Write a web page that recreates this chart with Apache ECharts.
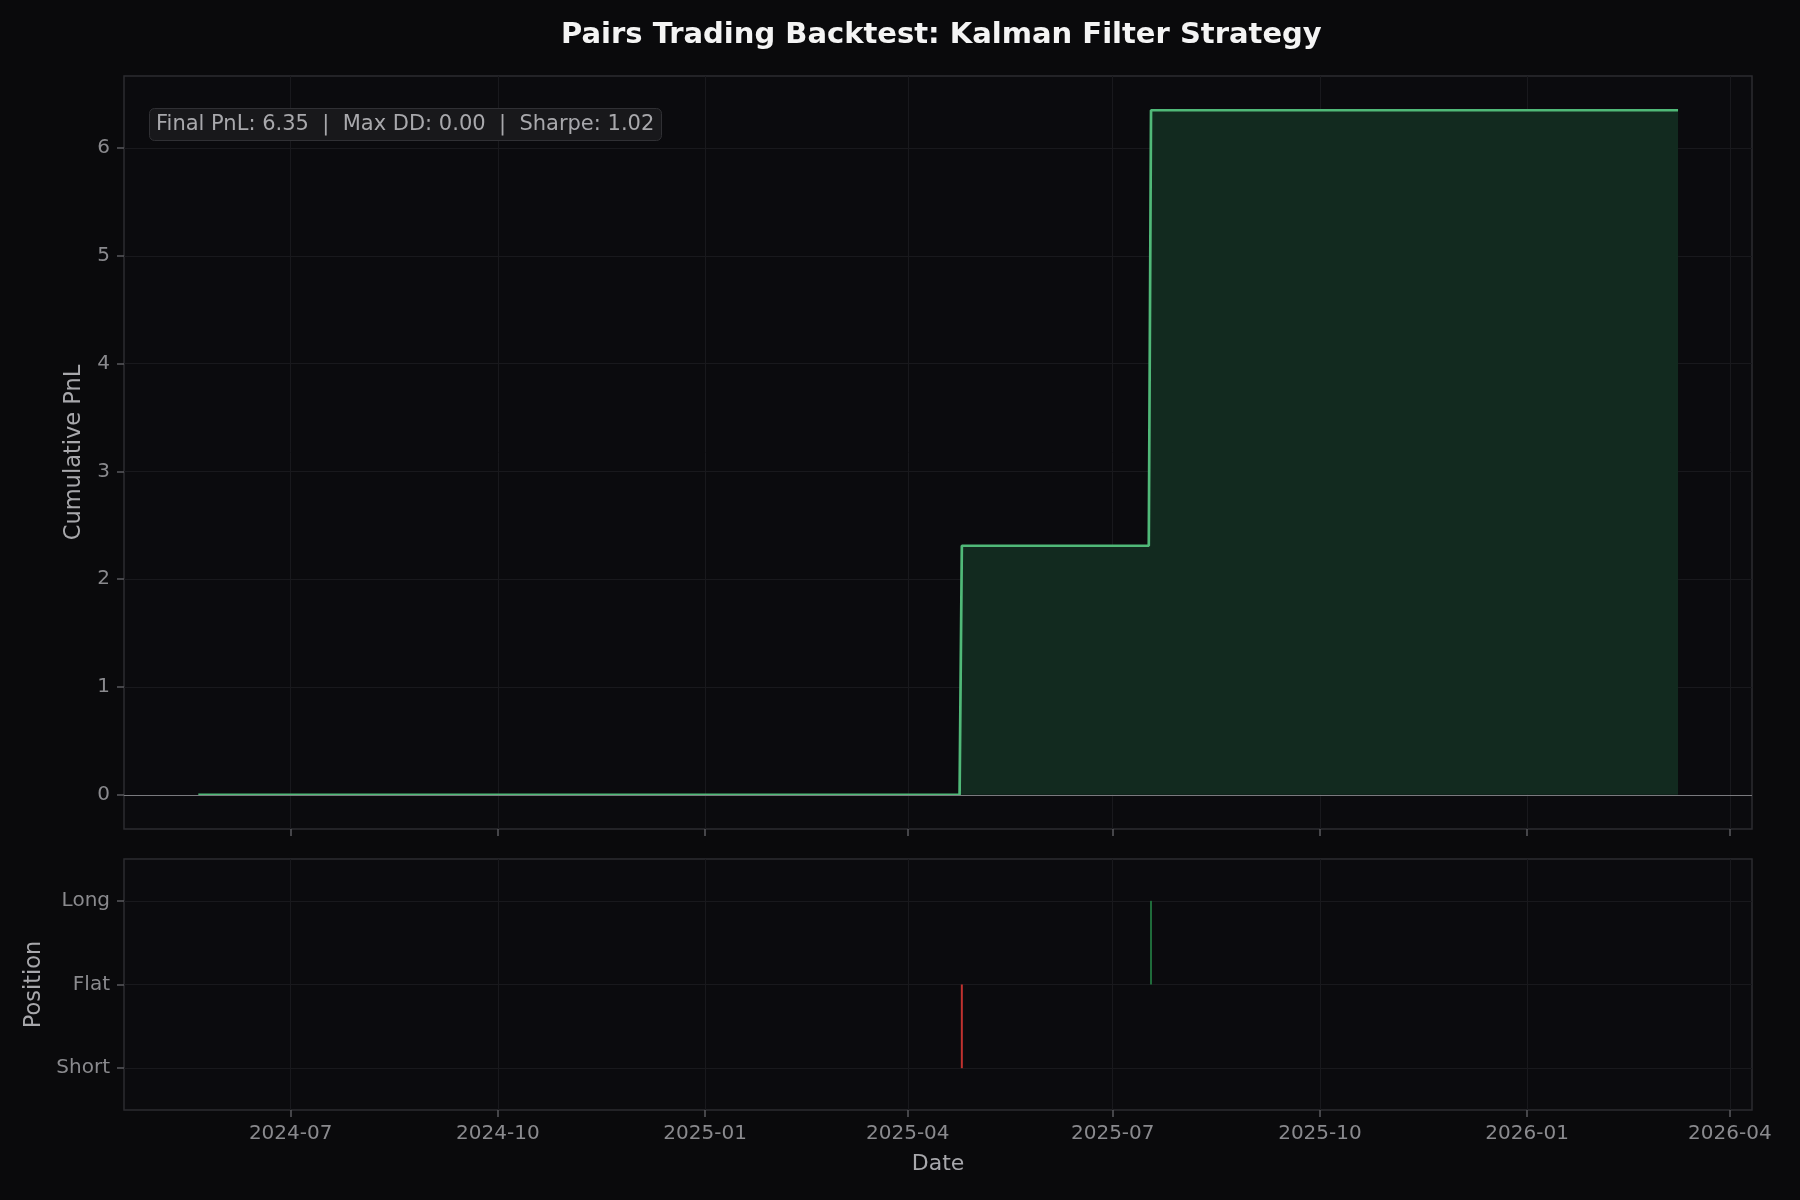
<!DOCTYPE html>
<html>
<head>
    <meta charset="utf-8"/>
    <title>Pairs Trading Backtest</title>
    <script src="https://cdn.jsdelivr.net/npm/echarts@6.0.0/dist/echarts.min.js"></script>
    <style>
        html, body { margin: 0; padding: 0; background: #0a0a0c; }
    </style>
</head>
<body>
<div id="main" style="width: 1800px;height:1200px;"></div>
<script type="text/javascript">
    // cumulative PnL (daily points where the curve changes)
    var pnlDates = ['2024-05-21', '2025-04-24', '2025-04-25', '2025-07-17', '2025-07-18', '2026-03-09'];
    var pnlValues = [0, 0, 2.31, 2.31, 6.35, 6.35];

    // position signals (-1 short, 1 long), flat elsewhere
    var posDates = ['2025-04-25', '2025-07-18'];
    var posValues = [-1, 1];
    var posNames = ['Short', 'Flat', 'Long'];

    // axis ticks
    var xTickDates = ['2024-07-01', '2024-10-01', '2025-01-01', '2025-04-01',
                      '2025-07-01', '2025-10-01', '2026-01-01', '2026-04-01'];
    var yTicks = [0, 1, 2, 3, 4, 5, 6];
    var posTicks = [-1, 0, 1];

    // stats
    var finalPnl = 6.35;
    var maxDD = 0.00;
    var sharpe = 1.02;

    // dates -> ms timestamps, x axes are plain value axes over time
    function ts(s) {
        return new Date(s + 'T00:00:00').getTime();
    }
    function pad(n) {
        return n < 10 ? '0' + n : '' + n;
    }
    function fmtMonth(v) {
        var d = new Date(v);
        return d.getFullYear() + '-' + pad(d.getMonth() + 1);
    }

    var xMin = ts('2024-04-18');
    var xMax = ts('2026-04-10') + 20 * 3600 * 1000;
    var xTicks = xTickDates.map(ts);

    var pnlData = pnlDates.map(function (d, i) { return [ts(d), pnlValues[i]]; });
    var posData = posDates.map(function (d, i) { return [ts(d), posValues[i]]; });

    var font = 'DejaVu Sans';
    var tickColor = '#8a8a8e';
    var labelColor = '#a8a8ac';
    var gridColor = '#19191d';
    var frameColor = '#2c2c30';
    var tickLine = { color: '#5a5a5e', width: 1.5 };

    var myChart = echarts.init(document.getElementById('main'));

    var option = {
        backgroundColor: '#0a0a0c',
        animation: false,
        textStyle: { fontFamily: font },
        title: [
            {
                text: 'Pairs Trading Backtest: Kalman Filter Strategy',
                left: 556,
                top: 16,
                textStyle: { color: '#f4f4f4', fontSize: 29, fontWeight: 'bold', fontFamily: font }
            },
            {
                text: 'Final PnL: ' + finalPnl.toFixed(2) + '  |  Max DD: ' + maxDD.toFixed(2) +
                      '  |  Sharpe: ' + sharpe.toFixed(2),
                left: 149,
                top: 108,
                padding: [6, 7, 6, 7],
                backgroundColor: '#18181b',
                borderColor: '#303034',
                borderWidth: 1,
                borderRadius: 5,
                textStyle: { color: '#a8a8ac', fontSize: 21, fontWeight: 'normal', fontFamily: font }
            }
        ],
        grid: [
            {
                left: 124, right: 48, top: 76, height: 753,
                show: true, backgroundColor: '#0b0b0e',
                borderColor: frameColor, borderWidth: 1.5
            },
            {
                left: 124, right: 48, top: 859, height: 251,
                show: true, backgroundColor: '#0b0b0e',
                borderColor: frameColor, borderWidth: 1.5
            }
        ],
        xAxis: [
            {
                type: 'value', gridIndex: 0, min: xMin, max: xMax,
                axisLine: { show: false, onZero: false },
                axisTick: { show: true, length: 7, customValues: xTicks, lineStyle: tickLine },
                axisLabel: { show: false, customValues: xTicks },
                splitLine: { show: true, lineStyle: { color: gridColor, width: 1 } }
            },
            {
                type: 'value', gridIndex: 1, min: xMin, max: xMax,
                name: 'Date', nameLocation: 'middle', nameGap: 43,
                nameTextStyle: { color: labelColor, fontSize: 22, fontFamily: font },
                axisLine: { show: false, onZero: false },
                axisTick: { show: true, length: 7, customValues: xTicks, lineStyle: tickLine },
                axisLabel: {
                    customValues: xTicks, color: tickColor, fontSize: 20, fontFamily: font, margin: 14,
                    formatter: fmtMonth
                },
                splitLine: { show: true, lineStyle: { color: gridColor, width: 1 } }
            }
        ],
        yAxis: [
            {
                type: 'value', gridIndex: 0, min: -0.3175, max: 6.6675,
                name: 'Cumulative PnL', nameLocation: 'middle', nameGap: 38,
                nameTextStyle: { color: labelColor, fontSize: 22.5, fontFamily: font },
                axisLine: { show: false, onZero: false },
                axisTick: { show: true, length: 7, customValues: yTicks, lineStyle: tickLine },
                axisLabel: { customValues: yTicks, color: tickColor, fontSize: 20, fontFamily: font, margin: 14 },
                splitLine: { show: true, lineStyle: { color: gridColor, width: 1 } }
            },
            {
                type: 'value', gridIndex: 1, min: -1.5, max: 1.5,
                name: 'Position', nameLocation: 'middle', nameGap: 77,
                nameTextStyle: { color: labelColor, fontSize: 22.5, fontFamily: font },
                axisLine: { show: false, onZero: false },
                axisTick: { show: true, length: 7, customValues: posTicks, lineStyle: tickLine },
                axisLabel: {
                    customValues: posTicks, color: tickColor, fontSize: 20, fontFamily: font, margin: 14,
                    formatter: function (v) { return posNames[Math.round(v) + 1]; }
                },
                splitLine: { show: true, lineStyle: { color: gridColor, width: 1 } }
            }
        ],
        series: [
            {
                name: 'Cumulative PnL',
                type: 'line',
                xAxisIndex: 0, yAxisIndex: 0,
                data: pnlData,
                showSymbol: false,
                lineStyle: { color: '#50b978', width: 2.7 },
                areaStyle: { color: '#122a1f', opacity: 1 },
                z: 3,
                markLine: {
                    silent: true,
                    symbol: 'none',
                    label: { show: false },
                    lineStyle: { color: '#7a7a7e', width: 1.2, type: 'solid' },
                    data: [{ yAxis: 0 }]
                }
            },
            {
                name: 'Position',
                type: 'bar',
                xAxisIndex: 1, yAxisIndex: 1,
                data: posData,
                barWidth: 2,
                itemStyle: {
                    color: function (p) { return p.value[1] < 0 ? '#c0322f' : '#1f6b3a'; }
                }
            }
        ]
    };

    myChart.setOption(option);
</script>
</body>
</html>
